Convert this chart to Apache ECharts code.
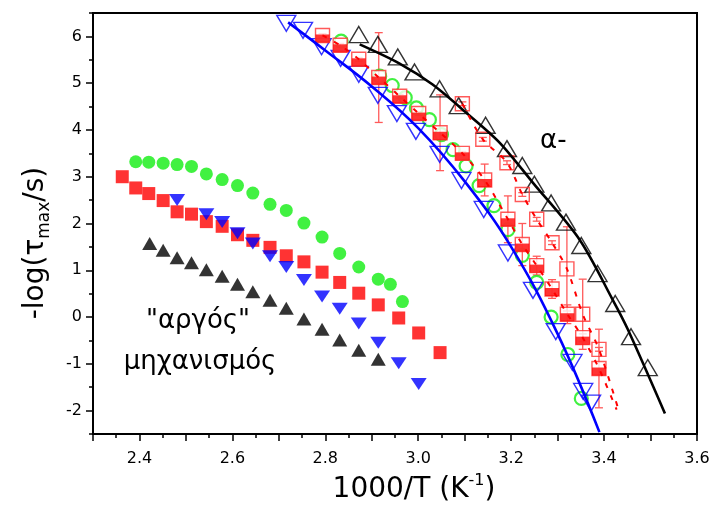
<!DOCTYPE html>
<html><head><meta charset="utf-8">
<script src="https://cdn.jsdelivr.net/npm/echarts@6/dist/echarts.min.js"></script>
<style>html,body{margin:0;padding:0;background:#fff}#c{width:713px;height:505px}</style>
</head><body><div id="c"></div>
<script>
// ---- tick labels ----
const xTickLabels = [2.4, 2.6, 2.8, 3.0, 3.2, 3.4, 3.6];
const yTickLabels = [-2, -1, 0, 1, 2, 3, 4, 5, 6];

// ---- "slow" process (filled symbols, left) ----
const xGreenFilled = [2.392,2.420,2.451,2.481,2.512,2.544,2.578,2.611,2.644,2.681,2.716,2.754,2.793,2.831,2.872,2.914,2.940,2.966];
const yGreenFilled = [3.32,3.31,3.29,3.26,3.22,3.06,2.94,2.81,2.65,2.41,2.28,2.01,1.71,1.36,1.07,0.81,0.70,0.33];

const xRedFilledLeft = [2.363,2.392,2.420,2.451,2.481,2.512,2.544,2.578,2.611,2.644,2.681,2.716,2.754,2.793,2.831,2.872,2.914,2.958,3.001,3.047];
const yRedFilledLeft = [3.00,2.76,2.64,2.49,2.25,2.20,2.04,1.94,1.76,1.64,1.49,1.31,1.18,0.96,0.74,0.51,0.26,-0.02,-0.34,-0.76];

const xBlueFilled = [2.481,2.544,2.578,2.611,2.644,2.681,2.716,2.754,2.793,2.831,2.872,2.914,2.958,3.001];
const yBlueFilled = [2.50,2.20,2.03,1.79,1.57,1.30,1.07,0.79,0.44,0.18,-0.14,-0.55,-0.99,-1.43];

const xBlackFilled = [2.422,2.451,2.481,2.512,2.544,2.578,2.611,2.644,2.681,2.716,2.754,2.793,2.831,2.872,2.914];
const yBlackFilled = [1.57,1.43,1.27,1.16,1.01,0.87,0.70,0.54,0.36,0.19,-0.04,-0.26,-0.49,-0.71,-0.90];

// ---- alpha process (open symbols, right) ----
const xBlackOpen = [2.872,2.913,2.956,2.992,3.046,3.087,3.145,3.191,3.224,3.250,3.286,3.318,3.351,3.386,3.424,3.458,3.494];
const yBlackOpen = [6.04,5.83,5.56,5.24,4.88,4.52,4.10,3.60,3.24,2.84,2.44,2.03,1.53,0.93,0.29,-0.42,-1.08];
const xBlackFit = [2.874,2.960,3.031,3.103,3.175,3.247,3.347,3.418,3.451,3.531];
const yBlackFit = [5.83,5.42,4.97,4.37,3.73,2.87,1.66,0.38,-0.26,-2.06];

const xBlueOpen = [2.716,2.752,2.792,2.833,2.872,2.913,2.954,2.995,3.046,3.093,3.141,3.193,3.247,3.296,3.332,3.355,3.372];
const yBlueOpen = [6.28,6.13,5.78,5.53,5.19,4.74,4.35,3.97,3.48,2.92,2.30,1.37,0.57,-0.31,-0.97,-1.59,-1.84];
const xBlueFit = [2.72,2.80,2.90,3.00,3.10,3.20,3.30,3.39];
const yBlueFit = [6.30,5.70,4.93,4.04,2.90,1.50,-0.36,-2.46];

const xGreenOpen = [2.834,2.917,2.944,2.972,2.996,3.024,3.050,3.075,3.103,3.131,3.163,3.193,3.224,3.255,3.286,3.322,3.351];
const yGreenOpen = [5.90,5.15,4.95,4.69,4.47,4.22,3.90,3.58,3.23,2.81,2.38,1.87,1.32,0.74,0.00,-0.80,-1.74];

const xRedHalf = [2.794,2.832,2.872,2.915,2.960,3.001,3.047,3.095,3.143,3.193,3.224,3.255,3.288,3.321,3.354,3.389];
const yRedHalf = [6.02,5.81,5.51,5.12,4.72,4.35,3.94,3.50,2.93,2.09,1.55,1.10,0.60,0.06,-0.44,-1.10];
const errRedHalf = [0.04,0.04,0.04,0.96,0.04,0.04,0.81,0.04,0.34,0.50,0.45,0.20,0.20,0.20,0.08,0.84];
const xRedHalfFit = [2.794,2.832,2.872,2.915,2.960,3.001,3.047,3.095,3.143,3.193,3.224,3.255,3.288,3.321,3.354,3.389,3.427];
const yRedHalfFit = [6.02,5.81,5.51,5.12,4.72,4.35,3.94,3.50,2.93,2.09,1.55,1.10,0.60,0.06,-0.44,-1.10,-1.98];

const xRedOpen = [3.095,3.139,3.191,3.224,3.255,3.288,3.320,3.354,3.389];
const yRedOpen = [4.56,3.80,3.30,2.62,2.09,1.59,1.03,0.06,-0.69];
const errRedOpen = [0.04,0.04,0.04,0.04,0.04,0.04,0.90,0.75,0.04];
const xRedOpenFit = [3.095,3.139,3.191,3.224,3.255,3.288,3.320,3.354,3.389,3.431];
const yRedOpenFit = [4.56,3.80,3.30,2.62,2.09,1.59,1.03,0.06,-0.69,-1.98];

// ---- build ----
const FONT = 'DejaVu Sans';
const zip = (xs, ys) => xs.map((x, i) => [x, ys[i]]);
const zip3 = (xs, ys, es) => xs.map((x, i) => [x, ys[i], es[i]]);

const xMajor = [], xMinor = [];
for (let i = 0; i <= 13; i++) xMajor.push(+(2.3 + 0.1 * i).toFixed(2));
for (let i = 0; i < 13; i++) xMinor.push(+(2.35 + 0.1 * i).toFixed(2));
const yMinor = [];
for (let i = 0; i < 9; i++) yMinor.push(-2.5 + i);
yMinor.push(6.5);

const chart = echarts.init(document.getElementById('c'), null, {renderer: 'canvas'});

const errColor = '#ff5a5a';
function errItem(params, api) {
  const x = api.value(0), y = api.value(1), e = api.value(2);
  const t = api.coord([x, y + e]);
  const b = api.coord([x, y - e]);
  const w = 4;
  const st = {stroke: errColor, lineWidth: 1.3};
  return {type: 'group', children: [
    {type: 'line', shape: {x1: t[0], y1: t[1], x2: b[0], y2: b[1]}, style: st},
    {type: 'line', shape: {x1: t[0] - w, y1: t[1], x2: t[0] + w, y2: t[1]}, style: st},
    {type: 'line', shape: {x1: b[0] - w, y1: b[1], x2: b[0] + w, y2: b[1]}, style: st}
  ]};
}

const hollow = 'rgba(0,0,0,0)';
const option = {
  animation: false,
  backgroundColor: '#fff',
  grid: {left: 93, right: 16, top: 13, bottom: 71, show: true, borderColor: '#000', borderWidth: 2, backgroundColor: 'transparent'},
  xAxis: [{
    type: 'value', min: 2.3, max: 3.6, position: 'bottom',
    axisLine: {show: true, onZero: false, lineStyle: {color: '#000', width: 2}},
    axisTick: {show: true, inside: false, length: 7, customValues: xMajor, lineStyle: {color: '#000', width: 1.5}},
    axisLabel: {show: true, customValues: xTickLabels, margin: 17, color: '#000', fontFamily: FONT, fontSize: 16,
      formatter: v => v.toFixed(1)},
    splitLine: {show: false}
  }, {
    type: 'value', min: 2.3, max: 3.6, position: 'bottom',
    axisLine: {show: false, onZero: false},
    axisTick: {show: true, inside: false, length: 4, customValues: xMinor, lineStyle: {color: '#000', width: 1.5}},
    axisLabel: {show: false}, splitLine: {show: false}
  }],
  yAxis: [{
    type: 'value', min: -2.5, max: 6.5, position: 'left',
    axisLine: {show: true, onZero: false, lineStyle: {color: '#000', width: 2}},
    axisTick: {show: true, inside: false, length: 7, customValues: yTickLabels, lineStyle: {color: '#000', width: 1.5}},
    axisLabel: {show: true, customValues: yTickLabels, margin: 11, color: '#000', fontFamily: FONT, fontSize: 16,
      formatter: v => String(v)},
    splitLine: {show: false}
  }, {
    type: 'value', min: -2.5, max: 6.5, position: 'left',
    axisLine: {show: false, onZero: false},
    axisTick: {show: true, inside: false, length: 4, customValues: yMinor, lineStyle: {color: '#000', width: 1.5}},
    axisLabel: {show: false}, splitLine: {show: false}
  }],
  graphic: [
    {type: 'text', x: 414, y: 490, style: {
      text: '{a|1000/T (K}{b|-1}{a|)}', align: 'center', verticalAlign: 'middle', fill: '#000',
      rich: {a: {fontFamily: FONT, fontSize: 28, lineHeight: 34, fill: '#000'},
             b: {fontFamily: FONT, fontSize: 16, lineHeight: 16, verticalAlign: 'top', fill: '#000'}}}},
    {type: 'text', x: 36, y: 243, rotation: Math.PI / 2, style: {
      text: '{a|-log(τ}{b|max}{a|/s)}', align: 'center', verticalAlign: 'middle', fill: '#000',
      rich: {a: {fontFamily: FONT, fontSize: 28, lineHeight: 34, fill: '#000'},
             b: {fontFamily: FONT, fontSize: 17, lineHeight: 17, verticalAlign: 'bottom', fill: '#000'}}}},
    {type: 'text', x: 198, y: 321, style: {text: '"αργός"', align: 'center', verticalAlign: 'middle',
      fontFamily: FONT, fontSize: 26, fill: '#000'}},
    {type: 'text', x: 200, y: 362, style: {text: 'μηχανισμός', align: 'center', verticalAlign: 'middle',
      fontFamily: FONT, fontSize: 26, fill: '#000'}},
    {type: 'text', x: 540, y: 141, style: {text: 'α-', align: 'left', verticalAlign: 'middle',
      fontFamily: FONT, fontSize: 26, fill: '#000'}}
  ],
  series: [
    {type: 'custom', name: 'errHalf', renderItem: errItem, data: zip3(xRedHalf, yRedHalf, errRedHalf),
      encode: {x: 0, y: 1}, clip: false},
    {type: 'custom', name: 'errOpen', renderItem: errItem, data: zip3(xRedOpen, yRedOpen, errRedOpen),
      encode: {x: 0, y: 1}, clip: false},
    {type: 'scatter', data: zip(xGreenFilled, yGreenFilled), symbol: 'circle', symbolSize: 13,
      itemStyle: {color: '#11ee11'}},
    {type: 'scatter', data: zip(xRedFilledLeft, yRedFilledLeft), symbol: 'rect', symbolSize: 13,
      itemStyle: {color: '#ff0000'}},
    {type: 'scatter', data: zip(xBlueFilled, yBlueFilled), symbol: 'triangle', symbolRotate: 180, symbolSize: [16, 12],
      itemStyle: {color: '#0000ff'}},
    {type: 'scatter', data: zip(xBlackFilled, yBlackFilled), symbol: 'triangle', symbolSize: [15, 13],
      itemStyle: {color: '#000'}},
    {type: 'scatter', data: zip(xGreenOpen, yGreenOpen), symbol: 'circle', symbolSize: 13,
      itemStyle: {color: hollow, borderColor: '#11ee11', borderWidth: 2.2}},
    {type: 'scatter', data: zip(xBlueOpen, yBlueOpen), symbol: 'triangle', symbolRotate: 180, symbolSize: [19, 16],
      itemStyle: {color: hollow, borderColor: '#0000ff', borderWidth: 1.4}},
    {type: 'line', data: zip(xBlueFit, yBlueFit), smooth: 0.4, showSymbol: false,
      lineStyle: {color: '#0000ff', width: 2.6}},
    {type: 'scatter', data: zip(xBlackOpen, yBlackOpen), symbol: 'triangle', symbolSize: [19, 16],
      itemStyle: {color: hollow, borderColor: '#000', borderWidth: 1.4}},
    {type: 'line', data: zip(xBlackFit, yBlackFit), smooth: 0.3, showSymbol: false,
      lineStyle: {color: '#000', width: 2.6}},
    {type: 'scatter', data: zip(xRedOpen, yRedOpen), symbol: 'rect', symbolSize: 14,
      itemStyle: {color: hollow, borderColor: '#ff3030', borderWidth: 1.4}},
    {type: 'scatter', data: zip(xRedHalf, yRedHalf), symbol: 'rect', symbolSize: 14,
      itemStyle: {color: '#fff', borderColor: '#ff3030', borderWidth: 1.4}},
    {type: 'scatter', data: zip(xRedHalf, yRedHalf), symbol: 'rect', symbolSize: [14, 8], symbolOffset: [0, 3],
      itemStyle: {color: '#ff0000'}},
    {type: 'line', data: zip(xRedHalfFit, yRedHalfFit), smooth: 0.3, showSymbol: false,
      lineStyle: {color: '#ff0000', width: 2, type: [5, 8]}},
    {type: 'line', data: zip(xRedOpenFit, yRedOpenFit), smooth: 0.3, showSymbol: false,
      lineStyle: {color: '#ff0000', width: 2, type: [5, 8]}}
  ]
};
chart.setOption(option);
</script>
</body></html>
